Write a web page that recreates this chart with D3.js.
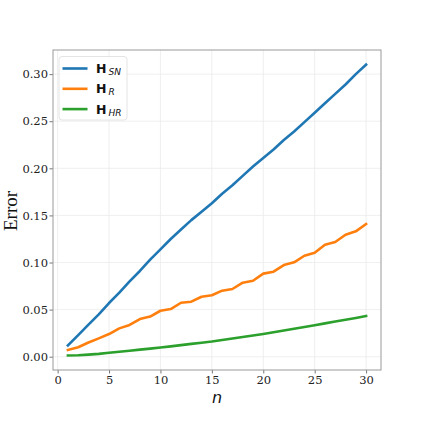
<!DOCTYPE html>
<html><head><meta charset="utf-8">
<script src="https://cdn.jsdelivr.net/npm/d3@7"></script>
<style>body{margin:0;background:#fff}svg{display:block}</style>
</head><body>
<script>
const nValues = d3.range(1, 31);
const seriesSN = [0.012,0.023,0.034,0.045,0.057,0.068,0.080,0.091,0.103,0.114,0.125,0.135,0.145,0.154,0.163,0.173,0.182,0.192,0.202,0.211,0.220,0.230,0.239,0.249,0.259,0.269,0.279,0.289,0.300,0.310];
const seriesR = [0.0071,0.0100,0.0151,0.0195,0.0241,0.0301,0.0337,0.0400,0.0426,0.0488,0.0506,0.0573,0.0584,0.0637,0.0652,0.0701,0.0719,0.0786,0.0807,0.0882,0.0903,0.0973,0.1002,0.1072,0.1104,0.1189,0.1218,0.1295,0.1331,0.1409];
const seriesHR = [0.0013,0.0015,0.0022,0.0030,0.0042,0.0053,0.0064,0.0075,0.0086,0.0098,0.0110,0.0123,0.0136,0.0149,0.0162,0.0178,0.0194,0.0210,0.0226,0.0242,0.0260,0.0278,0.0297,0.0316,0.0335,0.0354,0.0373,0.0393,0.0412,0.0433];
const xTicks = [0,5,10,15,20,25,30];
const yTicks = [0,0.05,0.10,0.15,0.20,0.25,0.30];
const seriesNames = ["SN","R","HR"];
const colors = ["#1f77b4","#ff7f0e","#2ca02c"];
const allSeries = [seriesSN, seriesR, seriesHR];

const W = 423, H = 423;
const mL = 53, mR = 381, mT = 50, mB = 370;
const svg = d3.select("body").append("svg").attr("width", W).attr("height", H);

const x = d3.scaleLinear().domain([-0.45, 31.45]).range([mL, mR]);
const y = d3.scaleLinear().domain([-0.0141, 0.3256]).range([mB, mT]);

// grid
const g = svg.append("g");
g.selectAll(".gx").data(xTicks).enter().append("line")
  .attr("x1", d => x(d)).attr("x2", d => x(d)).attr("y1", mT).attr("y2", mB)
  .attr("stroke", "#ebebeb").attr("stroke-width", 0.8);
g.selectAll(".gy").data(yTicks).enter().append("line")
  .attr("y1", d => y(d)).attr("y2", d => y(d)).attr("x1", mL).attr("x2", mR)
  .attr("stroke", "#ebebeb").attr("stroke-width", 0.8);

// axes
const xAxis = d3.axisBottom(x).tickValues(xTicks).tickSize(3.5).tickPadding(2.5).tickFormat(d3.format("d"));
const yAxis = d3.axisLeft(y).tickValues(yTicks).tickSize(3.5).tickPadding(1.5).tickFormat(d3.format(".2f"));
const gx = svg.append("g").attr("transform", `translate(0,${mB})`).call(xAxis);
const gy = svg.append("g").attr("transform", `translate(${mL},0)`).call(yAxis);
[gx, gy].forEach(a => {
  a.select(".domain").remove();
  a.selectAll(".tick line").attr("stroke", "#555").attr("stroke-width", 0.8);
  a.selectAll(".tick text").attr("fill", "#222").style("font-family", "DejaVu Serif").style("font-size", "11.5px");
});

// lines
const line = d3.line().x((d, i) => x(nValues[i])).y(d => y(d));
allSeries.forEach((s, k) => {
  svg.append("path").datum(s).attr("d", line).attr("fill", "none")
    .attr("stroke", colors[k]).attr("stroke-width", 2.6).attr("stroke-linejoin", "round").attr("stroke-linecap", "square");
});

// frame
svg.append("rect").attr("x", mL).attr("y", mT).attr("width", mR - mL).attr("height", mB - mT)
  .attr("fill", "none").attr("stroke", "#999").attr("stroke-width", 1);

// labels
svg.append("text").attr("x", (mL + mR) / 2).attr("y", 403).attr("text-anchor", "middle")
  .style("font-family", "DejaVu Sans").style("font-style", "italic").style("font-size", "16px").attr("fill", "#111").text("n");
svg.append("text").attr("transform", `translate(17,211) rotate(-90)`).attr("text-anchor", "middle")
  .style("font-family", "Liberation Serif").style("font-size", "19px").attr("fill", "#111").text("Error");

// legend
const lg = svg.append("g");
lg.append("rect").attr("x", 59).attr("y", 56.5).attr("width", 68).attr("height", 63.5).attr("rx", 3)
  .attr("fill", "#fff").attr("fill-opacity", 0.8).attr("stroke", "#ddd").attr("stroke-width", 0.8);
seriesNames.forEach((nm, k) => {
  const yy = 68.5 + k * 20.3;
  lg.append("line").attr("x1", 62.5).attr("x2", 87.5).attr("y1", yy).attr("y2", yy)
    .attr("stroke", colors[k]).attr("stroke-width", 2.6);
  const t = lg.append("text").attr("x", 96).attr("y", yy + 4.5).style("font-family", "DejaVu Sans").attr("fill", "#111");
  t.append("tspan").style("font-weight", "bold").style("font-size", "12.5px").text("H");
  t.append("tspan").attr("dx", 2).attr("dy", 2).style("font-style", "italic").style("font-size", "9px").text(nm);
});
</script>
</body></html>
